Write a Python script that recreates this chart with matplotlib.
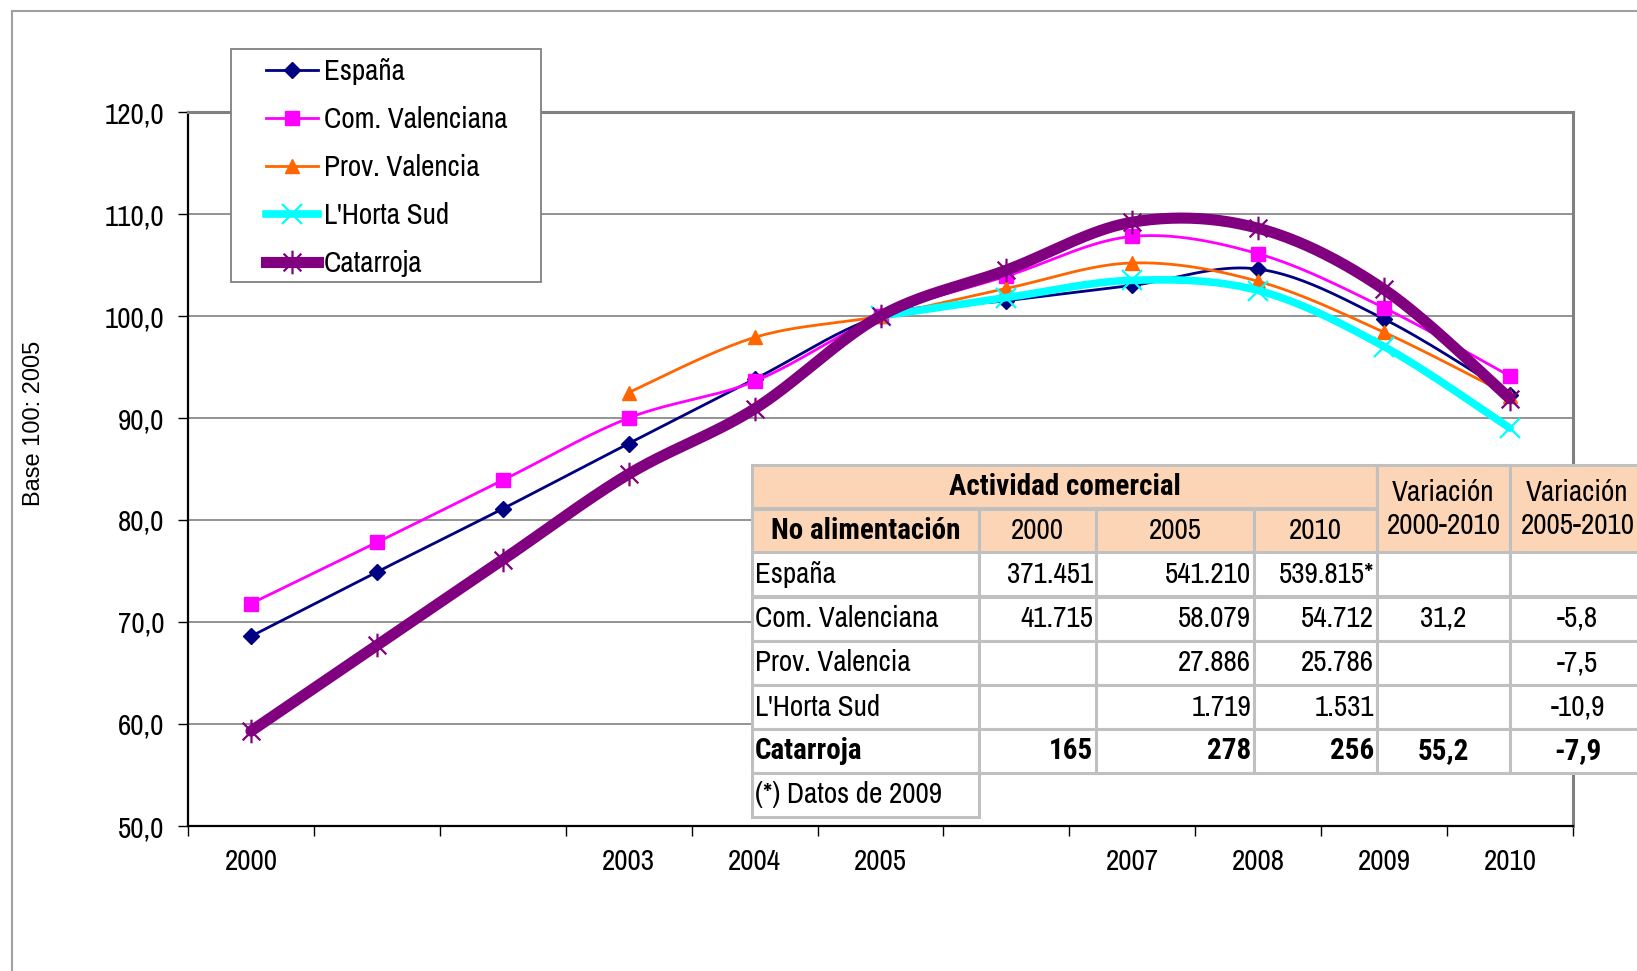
import numpy as np
import matplotlib
matplotlib.use("Agg")
import matplotlib.pyplot as plt
from matplotlib.lines import Line2D
from matplotlib.patches import Rectangle
from matplotlib.path import Path
from matplotlib import font_manager

# ---------------- data ----------------
years = [2000, 2001, 2002, 2003, 2004, 2005, 2006, 2007, 2008, 2009, 2010]
tick_labels = ["2000", "", "", "2003", "2004", "2005", "", "2007", "2008", "2009", "2010"]
nan = np.nan
espana = [68.6, 74.9, 81.1, 87.5, 93.8, 100.0, 101.5, 103.0, 104.6, 99.7, 92.3]
com_valenciana = [71.8, 77.8, 83.9, 90.0, 93.6, 100.0, 103.9, 107.8, 106.1, 100.8, 94.1]
prov_valencia = [nan, nan, nan, 92.5, 97.9, 100.0, 102.7, 105.2, 103.4, 98.4, 92.2]
horta_sud = [nan, nan, nan, nan, nan, 100.0, 101.8, 103.5, 102.5, 97.0, 89.0]
catarroja = [59.3, 67.7, 76.1, 84.5, 90.9, 100.0, 104.5, 109.2, 108.6, 102.6, 91.9]
series_names = ["España", "Com. Valenciana", "Prov. Valencia", "L'Horta Sud", "Catarroja"]

table_header_years = ["2000", "2005", "2010"]
table_rows = ["España", "Com. Valenciana", "Prov. Valencia", "L'Horta Sud", "Catarroja"]
table_2000 = ["371.451", "41.715", "", "", "165"]
table_2005 = ["541.210", "58.079", "27.886", "1.719", "278"]
table_2010 = ["539.815*", "54.712", "25.786", "1.531", "256"]
table_var_00_10 = ["", "31,2", "", "", "55,2"]
table_var_05_10 = ["", "-5,8", "-7,5", "-10,9", "-7,9"]
table_note = "(*) Datos de 2009"

# ---------------- fonts ----------------
fonts = font_manager.fontManager.ttflist
avail = {f.name for f in fonts}
REG = [n for n in ["Archivo Narrow", "Roboto Condensed", "Liberation Sans"] if n in avail] + ["DejaVu Sans"]
def has_bold(name):
    return any(f.name == name and (isinstance(f.weight, int) and f.weight >= 600 or f.weight == "bold")
               for f in fonts)
BOLD = [n for n in ["Archivo Narrow", "Roboto Condensed", "Liberation Sans"] if n in avail and has_bold(n)] + ["DejaVu Sans"]
plt.rcParams["font.family"] = REG
FS = 21

W, H = 1637, 971
fig = plt.figure(figsize=(W / 100, H / 100), dpi=100)

def fx(px):
    return px / W

def fy(py):
    return 1 - py / H

# chart area border
fig.patches.append(Rectangle((fx(12), fy(1000)), fx(1700), (1000 - 11) / H, transform=fig.transFigure,
                             fill=False, edgecolor="#a0a0a0", linewidth=1.5))

L, R, T, B = 188, 1573, 112, 826
ax = fig.add_axes([fx(L), fy(B), fx(R - L), (B - T) / H])
ax.set_xlim(0, 11)
ax.set_ylim(50, 120)

ax.set_yticks(np.arange(50, 121, 10))
ax.set_yticklabels([f"{v:.1f}".replace(".", ",") for v in np.arange(50, 121, 10)])
ax.yaxis.grid(True, color="#808080", linewidth=1.2)
ax.set_axisbelow(True)

ax.set_xticks(np.arange(0, 12))
ax.set_xticklabels([])
ax.set_xticks(np.arange(11) + 0.5, minor=True)
ax.set_xticklabels(tick_labels, minor=True)
ax.tick_params(axis="x", which="major", direction="out", length=7, width=1.0, color="black")
ax.tick_params(axis="x", which="minor", length=0, pad=16, labelsize=FS)
ax.tick_params(axis="y", direction="out", length=7, width=1.0, pad=10, labelsize=FS)

for s in ["left", "bottom"]:
    ax.spines[s].set_color("black")
    ax.spines[s].set_linewidth(1.6)
for s in ["top", "right"]:
    ax.spines[s].set_color("#808080")
    ax.spines[s].set_linewidth(2.2)


def smooth(xv, yv, n=40):
    xv = np.asarray(xv, float)
    yv = np.asarray(yv, float)
    m = ~np.isnan(yv)
    px, py = xv[m], yv[m]
    if len(px) < 3:
        return px, py
    P = np.column_stack([px, py])
    out = []
    for i in range(len(P) - 1):
        p0 = P[i - 1] if i > 0 else P[i]
        p1 = P[i]
        p2 = P[i + 1]
        p3 = P[i + 2] if i + 2 < len(P) else P[i + 1]
        c1 = p1 + (p2 - p0) / 6.0
        c2 = p2 - (p3 - p1) / 6.0
        t = np.linspace(0, 1, n)[:, None]
        seg = (1 - t) ** 3 * p1 + 3 * (1 - t) ** 2 * t * c1 + 3 * (1 - t) * t ** 2 * c2 + t ** 3 * p2
        out.append(seg if i == 0 else seg[1:])
    S = np.vstack(out)
    return S[:, 0], S[:, 1]

star = Path([(0, -1), (0, 1), (-0.75, -0.75), (0.75, 0.75), (-0.75, 0.75), (0.75, -0.75)],
            [Path.MOVETO, Path.LINETO, Path.MOVETO, Path.LINETO, Path.MOVETO, Path.LINETO])

styles = [
    dict(color="#000080", lw=2.0, marker="D", ms=8.5, mfc="#000080", mec="#000080", mew=1),
    dict(color="#ff00ff", lw=2.0, marker="s", ms=10.5, mfc="#ff00ff", mec="#ff00ff", mew=1),
    dict(color="#ff6600", lw=2.0, marker="^", ms=10.5, mfc="#ff6600", mec="#ff6600", mew=1),
    dict(color="#00ffff", lw=5.5, marker="x", ms=14, mfc="#00ffff", mec="#00ffff", mew=1.6),
    dict(color="#800080", lw=8.0, marker=star, ms=17, mfc="#800080", mec="#800080", mew=1.6),
]
data = [espana, com_valenciana, prov_valencia, horta_sud, catarroja]
xc = np.arange(len(years)) + 0.5
handles = []
for k, (vals, st) in enumerate(zip(data, styles)):
    sx, sy = smooth(xc, vals)
    ax.plot(sx, sy, color=st["color"], lw=st["lw"], solid_capstyle="round", zorder=3 + k, clip_on=False)
    ax.plot(xc, vals, linestyle="none", marker=st["marker"], ms=st["ms"], mfc=st["mfc"], mec=st["mec"],
            mew=st["mew"], zorder=3 + k, clip_on=False)
    handles.append(Line2D([], [], color=st["color"], lw=st["lw"], marker=st["marker"], ms=st["ms"],
                          mfc=st["mfc"], mec=st["mec"], mew=st["mew"], label=series_names[k]))

# y label
fig.text(fx(34), fy(423), "Base 100: 2005", rotation=90, ha="center", va="center",
         fontsize=17, family=["Liberation Sans", "DejaVu Sans"])

# legend
fig.patches.append(Rectangle((fx(231), fy(282)), fx(541 - 231), (282 - 49) / H, transform=fig.transFigure,
                             facecolor="white", edgecolor="#808080", linewidth=1.3, zorder=20))
leg = fig.legend(handles=handles, loc="upper left", bbox_to_anchor=(fx(266), fy(58)),
                 bbox_transform=fig.transFigure, frameon=False, fontsize=FS, handlelength=1.78,
                 handletextpad=0.2, labelspacing=0.72, borderpad=0.0, borderaxespad=0.0)
leg.set_zorder(21)

# ---------------- table ----------------
col_x = [752, 979, 1096, 1254, 1377, 1510, 1645]
row_y = [465, 508.5, 552.5, 596.5, 640.5, 685, 729, 773, 816.5]
PEACH = "#fbd5b5"
GRID = "#c0c0c0"
TZ = 30

def cell(x0, x1, y0, y1, fc):
    fig.patches.append(Rectangle((fx(x0), fy(y1)), fx(x1 - x0), (y1 - y0) / H, transform=fig.transFigure,
                                 facecolor=fc, edgecolor=GRID, linewidth=2.2, zorder=TZ))

def ctext(x, y, s, ha="center", bold=False):
    fig.text(fx(x), fy(y), s, ha=ha, va="center", fontsize=FS,
             fontweight="bold" if bold else "normal", family=BOLD if bold else REG, zorder=TZ + 1)

# header
cell(col_x[0], col_x[4], row_y[0], row_y[1], PEACH)
ctext((col_x[0] + col_x[4]) / 2, (row_y[0] + row_y[1]) / 2, "Actividad comercial", bold=True)
cell(col_x[0], col_x[1], row_y[1], row_y[2], PEACH)
ctext((col_x[0] + col_x[1]) / 2, (row_y[1] + row_y[2]) / 2, "No alimentación", bold=True)
for j, yl in enumerate(table_header_years):
    cell(col_x[1 + j], col_x[2 + j], row_y[1], row_y[2], PEACH)
    ctext((col_x[1 + j] + col_x[2 + j]) / 2, (row_y[1] + row_y[2]) / 2, yl)
for j, lab in enumerate(["Variación\n2000-2010", "Variación\n2005-2010"]):
    cell(col_x[4 + j], col_x[5 + j], row_y[0], row_y[2], PEACH)
    fig.text(fx((col_x[4 + j] + col_x[5 + j]) / 2), fy((row_y[0] + row_y[2]) / 2), lab, ha="center",
             va="center", fontsize=FS, linespacing=1.25, zorder=TZ + 1)

cols = [table_2000, table_2005, table_2010]
for i, name in enumerate(table_rows):
    y0, y1 = row_y[2 + i], row_y[3 + i]
    ym = (y0 + y1) / 2
    bold = name == "Catarroja"
    for c in range(6):
        cell(col_x[c], col_x[c + 1], y0, y1, "white")
    ctext(col_x[0] + 3, ym, name, ha="left", bold=bold)
    for j, colv in enumerate(cols):
        ctext(col_x[2 + j] - 3, ym, colv[i], ha="right", bold=bold)
    ctext((col_x[4] + col_x[5]) / 2, ym, table_var_00_10[i], bold=bold)
    ctext((col_x[5] + col_x[6]) / 2, ym, table_var_05_10[i], bold=bold)

cell(col_x[0], col_x[1], row_y[7], row_y[8], "white")
ctext(col_x[0] + 3, (row_y[7] + row_y[8]) / 2, table_note, ha="left")

fig.savefig("out.png", dpi=100)
